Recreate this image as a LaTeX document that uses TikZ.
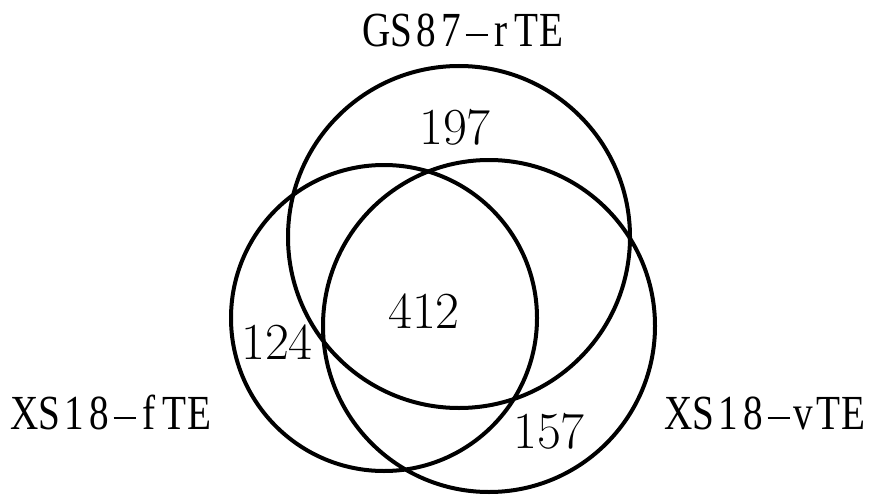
\documentclass[tikz,border=0pt]{standalone}
\usepackage{fontspec}
\newfontfamily\labfont[FakeStretch=0.8]{Liberation Serif}
\newcommand\mch[1]{\makebox[25pt]{#1}}
\newcommand\mdash{\makebox[25pt]{\rule[10.5pt]{22pt}{1.8pt}}}
\begin{document}
\begin{tikzpicture}[x=1pt,y=-1pt,
  ring/.style={draw=black,line width=4pt},
  num/.style={font=\fontsize{52}{52}\selectfont,inner sep=0pt,anchor=center},
  lab/.style={font=\labfont\fontsize{49}{49}\selectfont,inner sep=0pt,anchor=center}]
\useasboundingbox (0,0) rectangle (875,495);
\fill[white] (0,0) rectangle (875,495);
\draw[ring] (459,237) circle[radius=171];
\draw[ring] (384,318) circle[radius=153];
\draw[ring] (489,326) circle[radius=166];
\node[num] (n197) at (455,127) {197};
\node[num] (n412) at (424,311) {412};
\node[num] (n124) at (277,342) {124};
\node[num] (n157) at (549,431) {157};
\node[lab] (lg) at (464,30) {\mch{G}\mch{S}\mch{8}\mch{7}\mdash\mch{r}\mch{T}\mch{E}};
\node[lab] (lf) at (112,412) {\mch{X}\mch{S}\mch{1}\mch{8}\mdash\mch{f}\mch{T}\mch{E}};
\node[lab] (lv) at (766,413) {\mch{X}\mch{S}\mch{1}\mch{8}\mdash\mch{v}\mch{T}\mch{E}};
\end{tikzpicture}
\end{document}
